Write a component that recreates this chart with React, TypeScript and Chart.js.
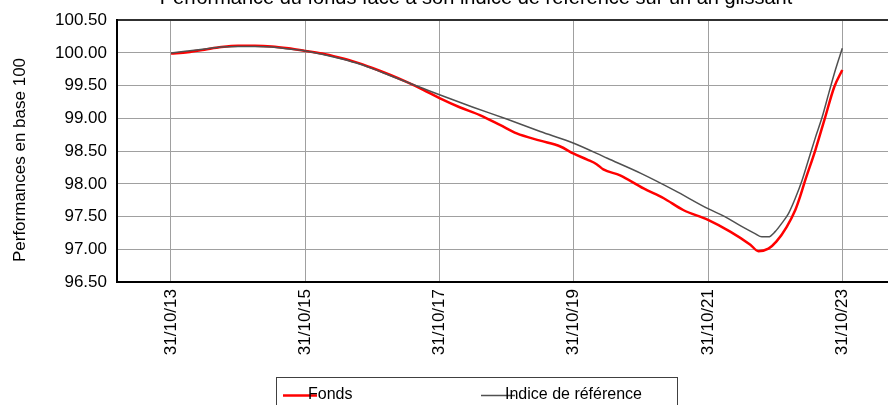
import React, { useEffect, useRef } from "react";
import { Chart, registerables } from "chart.js";

Chart.register(...registerables);

const TITLE = "Performance du fonds face à son indice de référence sur un an glissant";
const Y_TITLE = "Performances en base 100";
const SERIES_NAMES = ["Fonds", "Indice de référence"];

const X_TICKS = [13, 15, 17, 19, 21, 23];
const X_TICK_LABELS = ["31/10/13", "31/10/15", "31/10/17", "31/10/19", "31/10/21", "31/10/23"];
const Y_MIN = 96.5;
const Y_MAX = 100.5;
const Y_STEP = 0.5;
const X_MIN = 12.1956;
const X_MAX = 23.8596;

const FONDS_X = [
  13.0, 13.25, 13.5, 13.75, 14.0, 14.25, 14.5, 14.75, 15.0, 15.25, 15.5, 15.75, 16.0, 16.25, 16.5, 16.75,
  17.0, 17.3, 17.6, 17.9, 18.15, 18.5, 18.8, 19.0, 19.2, 19.34, 19.44, 19.69, 20.04, 20.34, 20.63, 21.0,
  21.33, 21.63, 21.75, 21.9, 22.02, 22.17, 22.3, 22.37, 22.44, 22.6, 22.74, 22.88, 23.0,
];
const FONDS_Y = [
  99.99, 100.01, 100.05, 100.09, 100.11, 100.11, 100.1, 100.07, 100.03, 99.99, 99.93, 99.86, 99.77, 99.67, 99.56, 99.44,
  99.31, 99.17, 99.05, 98.9, 98.77, 98.66, 98.57, 98.46, 98.37, 98.3, 98.22, 98.13, 97.93, 97.78, 97.6, 97.45,
  97.27, 97.07, 96.97, 97.01, 97.12, 97.34, 97.6, 97.8, 98.03, 98.52, 99.0, 99.48, 99.74,
];

const INDICE_X = [
  13.0, 13.25, 13.5, 13.75, 14.0, 14.25, 14.5, 14.75, 15.0, 15.25, 15.5, 15.75, 16.0, 16.25, 16.5, 16.75,
  17.0, 17.5, 18.0, 18.5, 19.0, 19.5, 20.0, 20.5, 21.0, 21.25, 21.5, 21.7, 21.8, 21.9, 22.0, 22.1, 22.2,
  22.3, 22.4, 22.5, 22.6, 22.7, 22.8, 22.9, 23.0,
];
const INDICE_Y = [
  100.0, 100.03, 100.06, 100.09, 100.1, 100.1, 100.09, 100.06, 100.03, 99.98, 99.92, 99.85, 99.76, 99.66, 99.56, 99.46,
  99.36, 99.17, 98.99, 98.8, 98.62, 98.39, 98.16, 97.9, 97.62, 97.5, 97.35, 97.24, 97.19, 97.19, 97.27, 97.4, 97.55,
  97.78, 98.05, 98.38, 98.71, 99.02, 99.39, 99.75, 100.07,
];

const FONT = '"Liberation Sans", Arial, sans-serif';
const RED = "#ff0000";
const GREY = "#505050";

const toPoints = (xs: number[], ys: number[]) => xs.map((x, i) => ({ x, y: ys[i] }));

const overlayPlugin = {
  id: "overlay",
  afterDraw(chart: any) {
    const ctx: CanvasRenderingContext2D = chart.ctx;
    ctx.save();
    ctx.fillStyle = "#000";
    ctx.font = `20px ${FONT}`;
    ctx.textAlign = "center";
    ctx.textBaseline = "alphabetic";
    ctx.fillText(TITLE, 476, 4);

    ctx.save();
    ctx.font = `17px ${FONT}`;
    ctx.translate(25, 160);
    ctx.rotate(-Math.PI / 2);
    ctx.fillText(Y_TITLE, 0, 0);
    ctx.restore();

    // legend box
    ctx.strokeStyle = "#404040";
    ctx.lineWidth = 1;
    ctx.strokeRect(276.5, 377.5, 401, 40);
    const items = chart.data.datasets;
    const lineStarts = [283, 481];
    const textStarts = [308, 505];
    ctx.font = `16px ${FONT}`;
    ctx.textAlign = "left";
    items.forEach((ds: any, i: number) => {
      ctx.strokeStyle = ds.borderColor;
      ctx.lineWidth = ds.borderWidth;
      ctx.beginPath();
      ctx.moveTo(lineStarts[i], 395.5);
      ctx.lineTo(lineStarts[i] + 34, 395.5);
      ctx.stroke();
      ctx.fillStyle = "#000";
      ctx.fillText(ds.label, textStarts[i], 399);
    });
    ctx.restore();
  },
};

export default function App() {
  const ref = useRef<HTMLCanvasElement | null>(null);

  useEffect(() => {
    if (!ref.current) return;
    const chart = new Chart(ref.current, {
      type: "line",
      data: {
        datasets: [
          {
            label: SERIES_NAMES[0],
            data: toPoints(FONDS_X, FONDS_Y),
            borderColor: RED,
            borderWidth: 2.5,
            pointRadius: 0,
            cubicInterpolationMode: "monotone",
            order: 1,
          },
          {
            label: SERIES_NAMES[1],
            data: toPoints(INDICE_X, INDICE_Y),
            borderColor: GREY,
            borderWidth: 1.5,
            pointRadius: 0,
            cubicInterpolationMode: "monotone",
            order: 0,
          },
        ],
      },
      options: {
        animation: false,
        responsive: false,
        devicePixelRatio: 1,
        layout: { padding: { left: 0, top: 20, right: 0, bottom: 0 } },
        plugins: {
          legend: { display: false },
          title: { display: false },
          tooltip: { enabled: false },
        },
        scales: {
          x: {
            type: "linear",
            min: X_MIN,
            max: X_MAX,
            afterBuildTicks: (scale: any) => {
              scale.ticks = X_TICKS.map((v) => ({ value: v }));
            },
            afterFit: (scale: any) => {
              scale.height = 123;
            },
            ticks: {
              autoSkip: false,
              minRotation: 90,
              maxRotation: 90,
              padding: 7,
              color: "#000",
              font: { family: FONT, size: 17 },
              callback: (v: any) => {
                const i = X_TICKS.indexOf(Number(v));
                return i >= 0 ? X_TICK_LABELS[i] : "";
              },
            },
            grid: { color: "#a0a0a0", lineWidth: 1, drawTicks: false },
            border: { display: true, color: "#000", width: 2 },
          },
          y: {
            type: "linear",
            min: Y_MIN,
            max: Y_MAX,
            afterFit: (scale: any) => {
              scale.width = 117;
            },
            ticks: {
              stepSize: Y_STEP,
              padding: 10,
              color: "#000",
              font: { family: FONT, size: 17 },
              callback: (v: any) => Number(v).toFixed(2),
            },
            grid: {
              color: (c: any) => (c.tick && c.tick.value === Y_MAX ? "#303030" : "#a0a0a0"),
              lineWidth: (c: any) => (c.tick && c.tick.value === Y_MAX ? 2 : 1),
              drawTicks: false,
            },
            border: { display: true, color: "#000", width: 2 },
          },
        },
      },
      plugins: [overlayPlugin],
    });
    return () => chart.destroy();
  }, []);

  return (
    <div style={{ position: "fixed", left: 0, top: 0, width: 888, height: 405, overflow: "hidden", background: "#fff" }}>
      <canvas ref={ref} width={900} height={405} style={{ width: 900, height: 405, display: "block" }} />
    </div>
  );
}
